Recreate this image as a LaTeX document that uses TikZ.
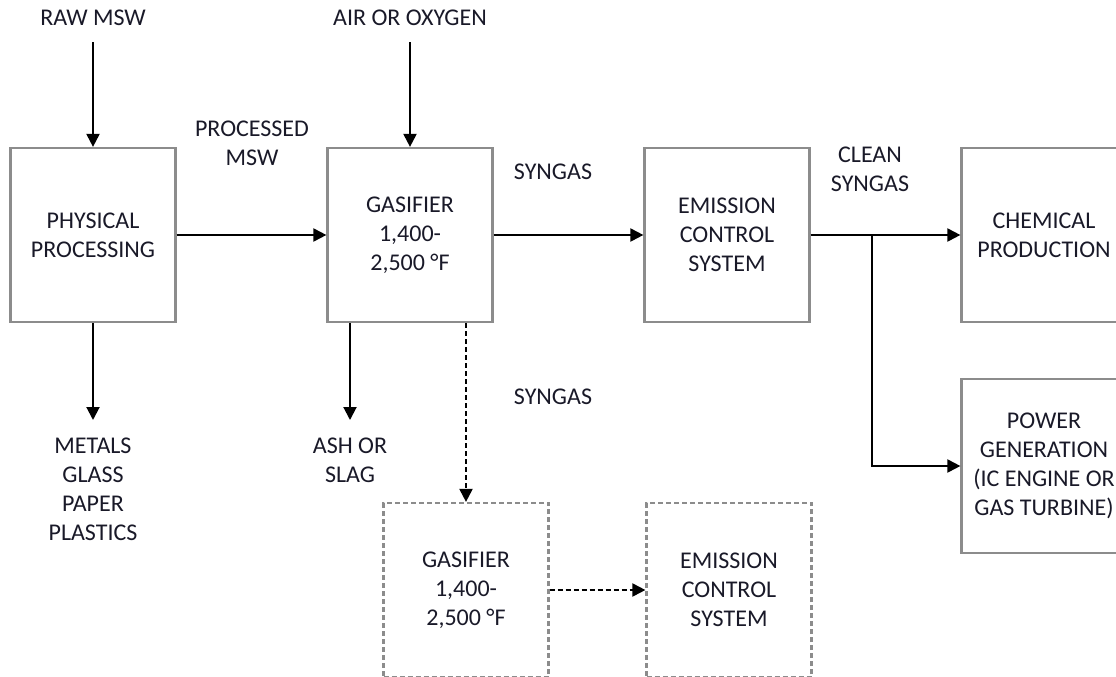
\documentclass[tikz,border=0pt]{standalone}
\usepackage{fontspec}
\setmainfont{Carlito}
\usetikzlibrary{arrows.meta}
\definecolor{boxgray}{RGB}{140,140,140}
\definecolor{txt}{RGB}{25,25,40}
\begin{document}
\begin{tikzpicture}[x=1pt,y=-1pt,
  font=\fontsize{24}{29}\selectfont,text=txt,
  box/.style={draw=boxgray,line width=2.2pt,minimum width=165pt,minimum height=174pt,align=center,inner sep=0pt},
  dbox/.style={box,dash pattern=on 5pt off 3pt},
  lbl/.style={align=center,inner sep=0pt},
  arr/.style={-{Triangle[length=13pt,width=13pt]},line width=2pt},
  darr/.style={arr,dash pattern=on 5pt off 3pt}]
  \useasboundingbox (0,0) rectangle (1116,677);
  % process boxes
  \node[box] (phys) at (93,235) {PHYSICAL\\PROCESSING};
  \node[box] (gas) at (410,235) {GASIFIER\\1,400-\\2,500 °F};
  \node[box] (emis) at (727,235) {EMISSION\\CONTROL\\SYSTEM};
  \node[box] (chem) at (1044,235) {CHEMICAL\\PRODUCTION};
  \node[box] (power) at (1044,466) {POWER\\GENERATION\\(IC ENGINE OR\\GAS TURBINE)};
  \node[dbox] (gas2) at (466,590) {GASIFIER\\1,400-\\2,500 °F};
  \node[dbox] (emis2) at (729,590) {EMISSION\\CONTROL\\SYSTEM};
  % stream labels
  \node[lbl] (raw) at (93,18) {RAW MSW};
  \node[lbl] (air) at (410,18) {AIR OR OXYGEN};
  \node[lbl] (procmsw) at (252,143) {PROCESSED\\MSW};
  \node[lbl] (syn) at (553,172) {SYNGAS};
  \node[lbl] (syn2) at (553,397) {SYNGAS};
  \node[lbl] (clean) at (870,169) {CLEAN\\SYNGAS};
  \node[lbl,anchor=north] (waste) at (93,438) {METALS\\GLASS\\PAPER\\PLASTICS};
  \node[lbl,anchor=north] (ash) at (350,438) {ASH OR\\SLAG};
  % flows
  \draw[arr,shorten <=16pt] (raw) -- (phys);
  \draw[arr,shorten <=16pt] (air) -- (gas);
  \draw[arr] (phys) -- (gas);
  \draw[arr] (gas) -- (emis);
  \draw[arr] (emis) -- (chem);
  \coordinate (split) at (872,235);
  \draw[arr] (split) |- (power);
  \draw[arr,shorten >=18pt] (phys) -- (waste);
  \draw[arr,shorten >=18pt] ([xshift=-60pt]gas.south) -- (ash);
  \draw[darr] (gas.south -| gas2.north) -- (gas2.north);
  \draw[darr] (gas2) -- (emis2);
\end{tikzpicture}
\end{document}
